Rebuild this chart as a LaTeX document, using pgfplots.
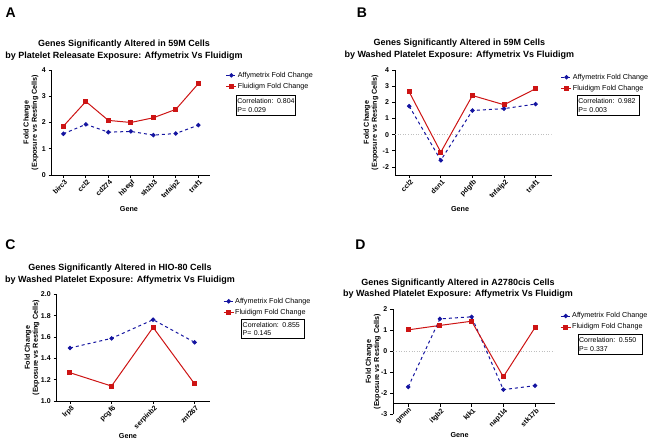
\documentclass[border=0pt]{standalone}
\usepackage{pgfplots}
\pgfplotsset{compat=1.18}
\usepackage{pgfplotstable}
\usepackage{fontspec}
\setmainfont{Liberation Sans}
\definecolor{pblue}{RGB}{20,20,160}
\definecolor{pred}{RGB}{205,20,20}

\pgfplotstableread{
x affy flu
0 1.57 1.86
1 1.93 2.80
2 1.63 2.08
3 1.66 2.00
4 1.52 2.18
5 1.58 2.50
6 1.90 3.48
}\dataA
\pgfplotstableread{
x affy flu
0 1.76 2.64
1 -1.59 -1.09
2 1.49 2.42
3 1.61 1.85
4 1.89 2.84
}\dataB
\pgfplotstableread{
x affy flu
0 1.497 1.265
1 1.587 1.140
2 1.762 1.690
3 1.550 1.160
}\dataC
\pgfplotstableread{
x affy flu
0 -1.70 1.01
1 1.53 1.22
2 1.63 1.42
3 -1.83 -1.22
4 -1.64 1.12
}\dataD

\pgfplotsset{
  panel/.style={
    scale only axis,
    axis lines*=left,
    axis line style={line width=0.8pt,-},
    tick align=outside,
    major tick length=3pt,
    tick style={line width=0.8pt,black},
    /pgf/number format/assume math mode=true,
    tick label style={font=\fontsize{7}{7.5}\selectfont\bfseries},
    yticklabel style={xshift=0.5pt},
    xticklabel style={rotate=45,anchor=north east,inner sep=1pt,xshift=1pt},
    ylabel={Fold Change\\(Exposure vs Resting Cells)},
    ylabel style={align=center,font=\fontsize{7.2}{8.2}\selectfont\bfseries,anchor=center},
    legend cell align=left,
    legend style={draw=none,fill=none,font=\fontsize{7.2}{8}\selectfont,anchor=west,
      inner sep=0pt,row sep=2.3pt,nodes={inner sep=1pt}},
    legend image code/.code={\draw[mark repeat=2,mark phase=2] plot coordinates {(0pt,0pt) (5pt,0pt) (10pt,0pt)};},
  },
  affy/.style={pblue,dashed,line width=1pt,mark=*,mark size=1.7pt,mark options={solid}},
  flu/.style={pred,line width=1pt,mark=square*,mark size=2pt,mark options={solid}},
}

\begin{document}
\begin{tikzpicture}[x=1pt,y=1pt]
\path[use as bounding box] (0pt,0pt) rectangle (662pt,442pt);

% Panel letters
\node[font=\fontsize{14}{14}\selectfont\bfseries] at (10.8pt,429.7pt) {A};
\node[font=\fontsize{14}{14}\selectfont\bfseries] at (362pt,429.7pt) {B};
\node[font=\fontsize{14}{14}\selectfont\bfseries] at (10.5pt,197.2pt) {C};
\node[font=\fontsize{14}{14}\selectfont\bfseries] at (360.5pt,197pt) {D};

% Titles
\node[align=center,font=\fontsize{9}{11.7}\selectfont\bfseries] at (124pt,392.1pt)
  {Genes Significantly Altered in 59M Cells\\by Platelet Releasate Exposure: Affymetrix Vs Fluidigm};
\node[align=center,font=\fontsize{9}{11.7}\selectfont\bfseries] at (459.3pt,392.8pt)
  {Genes Significantly Altered in 59M Cells\\by Washed Platelet Exposure: Affymetrix Vs Fluidigm};
\node[align=center,font=\fontsize{9}{11.7}\selectfont\bfseries] at (120pt,167.5pt)
  {Genes Significantly Altered in HIO-80 Cells\\by Washed Platelet Exposure: Affymetrix Vs Fluidigm};
\node[align=center,font=\fontsize{9}{11.7}\selectfont\bfseries] at (458pt,153.2pt)
  {Genes Significantly Altered in A2780cis Cells\\by Washed Platelet Exposure: Affymetrix Vs Fluidigm};

% Panel A
\begin{axis}[panel,at={(51.7pt,267pt)},anchor=south west,width=158.3pt,height=105pt,
  xmin=-0.52,xmax=6.52,ymin=0,ymax=4,ytick={0,1,2,3,4},
  xtick={0,...,6},xticklabels={birc3,ccl2,cd274,hbegf,sh2b3,tnfaip2,traf1},
  ylabel style={at={(axis description cs:-0.131,0.5)}},
  xlabel={Gene},xlabel style={at={(axis description cs:0.488,-0.324)},anchor=center,font=\fontsize{7.2}{8}\selectfont\bfseries},
  legend style={at={(axis description cs:1.099,0.8967)}}]
\addplot[affy] table[x=x,y=affy]{\dataA};
\addplot[flu] table[x=x,y=flu]{\dataA};
\legend{Affymetrix Fold Change,Fluidigm Fold Change}
\end{axis}
\node[draw,line width=0.8pt,anchor=north west,align=left,inner sep=1pt,minimum height=20pt,
  text width=57.3pt,font=\fontsize{7}{8.5}\selectfont] at (236pt,347pt) {\mbox{Correlation: 0.804}\\\mbox{P= 0.029}};

% Panel B
\begin{axis}[panel,at={(395pt,267pt)},anchor=south west,width=156.7pt,height=105pt,
  xmin=-0.45,xmax=4.51,ymin=-2.5,ymax=4,ytick={-2,-1,0,1,2,3,4},
  xtick={0,...,4},xticklabels={ccl2,dsn1,pdgfb,tnfaip2,traf1},
  ylabel style={at={(axis description cs:-0.153,0.5)}},
  xlabel={Gene},xlabel style={at={(axis description cs:0.415,-0.324)},anchor=center,font=\fontsize{7.2}{8}\selectfont\bfseries},
  legend style={at={(axis description cs:1.058,0.879)}}]
\addplot[gray!50,dotted,line width=0.6pt,forget plot] coordinates {(-0.45,0) (4.51,0)};
\addplot[affy] table[x=x,y=affy]{\dataB};
\addplot[flu] table[x=x,y=flu]{\dataB};
\legend{Affymetrix Fold Change,Fluidigm Fold Change}
\end{axis}
\node[draw,line width=0.8pt,anchor=north west,align=left,inner sep=1pt,minimum height=20.3pt,
  text width=60pt,font=\fontsize{7}{8.5}\selectfont] at (577pt,347pt) {\mbox{Correlation: 0.982}\\\mbox{P= 0.003}};

% Panel C
\begin{axis}[panel,at={(56.7pt,41pt)},anchor=south west,width=153.3pt,height=106.7pt,
  xmin=-0.32,xmax=3.37,ymin=1,ymax=2,ytick={1,1.2,...,2.01},
  yticklabel style={/pgf/number format/.cd,fixed,fixed zerofill,precision=1},
  xtick={0,...,3},xticklabels={lrp8,pcgf6,serpinb2,znf267},
  ylabel style={at={(axis description cs:-0.161,0.5)}},
  xlabel={Gene},xlabel style={at={(axis description cs:0.465,-0.328)},anchor=center,font=\fontsize{7.2}{8}\selectfont\bfseries},
  legend style={at={(axis description cs:1.085,0.8824)}}]
\addplot[affy] table[x=x,y=affy]{\dataC};
\addplot[flu] table[x=x,y=flu]{\dataC};
\legend{Affymetrix Fold Change,Fluidigm Fold Change}
\end{axis}
\node[draw,line width=0.8pt,anchor=north west,align=left,inner sep=1pt,minimum height=19pt,
  text width=60.7pt,font=\fontsize{7}{8.5}\selectfont] at (241.3pt,122.7pt) {\mbox{Correlation: 0.855}\\\mbox{P= 0.145}};

% Panel D
\begin{axis}[panel,at={(393.3pt,27.7pt)},anchor=south west,width=161.7pt,height=105.3pt,
  axis x line shift=-10.53pt,
  xmin=-0.47,xmax=4.63,ymin=-3,ymax=2,ytick={-3,-2,-1,0,1,2},
  xtick={0,...,4},xticklabels={gmnn,itgb2,klk1,nap1l4,stk17b},
  ylabel style={at={(axis description cs:-0.124,0.5)}},
  xlabel={Gene},xlabel style={at={(axis description cs:0.41,-0.2)},anchor=center,font=\fontsize{7.2}{8}\selectfont\bfseries},
  legend style={at={(axis description cs:1.031,0.881)}}]
\addplot[gray!50,dotted,line width=0.6pt,forget plot] coordinates {(-0.47,0) (4.63,0)};
\addplot[affy] table[x=x,y=affy]{\dataD};
\addplot[flu] table[x=x,y=flu]{\dataD};
\legend{Affymetrix Fold Change,Fluidigm Fold Change}
\end{axis}
\node[draw,line width=0.8pt,anchor=north west,align=left,inner sep=1pt,minimum height=20.7pt,
  text width=62.3pt,font=\fontsize{7}{8.5}\selectfont] at (577.7pt,108.3pt) {\mbox{Correlation: 0.550}\\\mbox{P= 0.337}};
\end{tikzpicture}
\end{document}
